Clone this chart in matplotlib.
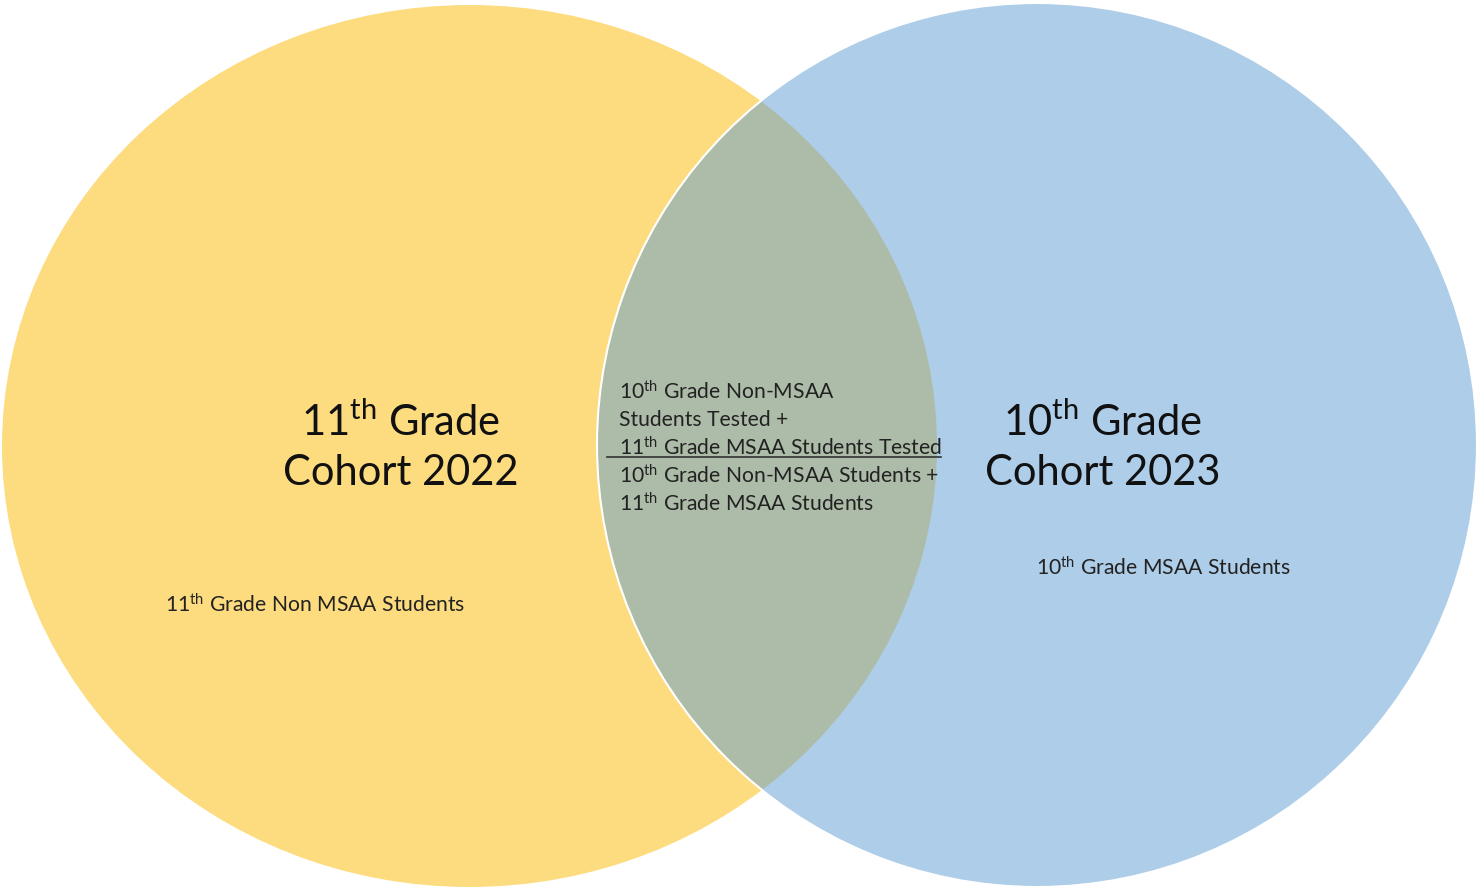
import matplotlib.pyplot as plt
from matplotlib.patches import Ellipse

plt.rcParams['font.family'] = ['Lato', 'DejaVu Sans']
plt.rcParams['mathtext.fontset'] = 'custom'
plt.rcParams['mathtext.rm'] = 'Lato'
plt.rcParams['mathtext.it'] = 'Lato'

# set titles (two lines each) and the member description below them
set_titles = [
    ['11$^{\\mathrm{th}}$ Grade', 'Cohort 2022'],
    ['10$^{\\mathrm{th}}$ Grade', 'Cohort 2023'],
]
set_members = [
    '11$^{\\mathrm{th}}$ Grade Non MSAA Students',
    '10$^{\\mathrm{th}}$ Grade MSAA Students',
]
# the overlap holds a fraction: numerator lines over denominator lines
overlap_numerator = [
    '10$^{\\mathrm{th}}$ Grade Non-MSAA',
    'Students Tested +',
    '11$^{\\mathrm{th}}$ Grade MSAA Students Tested',
]
overlap_denominator = [
    '10$^{\\mathrm{th}}$ Grade Non-MSAA Students +',
    '11$^{\\mathrm{th}}$ Grade MSAA Students',
]

yellow = '#FDDC80'
blue = '#AECDE9'
overlap = '#ADBCA8'

fig = plt.figure(figsize=(14.77, 8.89), dpi=100)
ax = fig.add_axes([0, 0, 1, 1])
ax.set_xlim(0, 1477)
ax.set_ylim(889, 0)
ax.axis('off')

left = Ellipse((469.5, 446), 935, 882, facecolor=yellow, edgecolor='none', zorder=1)
right = Ellipse((1037, 445), 880, 884, facecolor=blue, edgecolor='none', zorder=2)
ax.add_patch(left)
ax.add_patch(right)

# intersection: a copy of the left ellipse clipped by the right one
mid = Ellipse((469.5, 446), 935, 882, facecolor=overlap, edgecolor='none', zorder=3)
ax.add_patch(mid)
mid.set_clip_path(right)
edge = Ellipse((1037, 445), 880, 884, facecolor='none', edgecolor='white', lw=1.5, zorder=4)
ax.add_patch(edge)

big = 30
small = 15.2

for cx, lines in zip([401, 1103], set_titles):
    for i, line in enumerate(lines):
        ax.text(cx, 422 + 51 * i, line, fontsize=big, ha='center', va='center', color='#111111', zorder=5)

for (x, y), label in zip([(165, 605), (1036, 568)], set_members):
    ax.text(x, y, label, fontsize=small, ha='left', va='center', color='#222222', zorder=5)

lines = overlap_numerator + overlap_denominator
for i, line in enumerate(lines):
    ax.text(619, 392 + 28 * i, line, fontsize=small, ha='left', va='center', color='#222222', zorder=5)
ax.plot([607, 941], [457, 457], color='#333333', lw=1.2, zorder=5)

fig.savefig('out.png', dpi=100)
